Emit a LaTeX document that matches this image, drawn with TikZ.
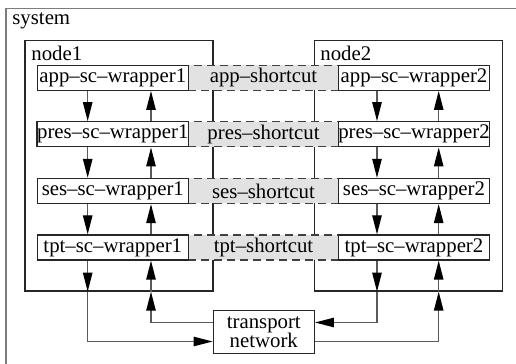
\documentclass[tikz,border=0pt]{standalone}
\usepackage{fontspec}
\setmainfont{Liberation Serif}
\usetikzlibrary{arrows.meta, positioning, calc}
\definecolor{framegray}{RGB}{125,125,125}
\definecolor{linegray}{RGB}{90,90,90}
\definecolor{cutgray}{RGB}{226,226,226}

\begin{document}
\begin{tikzpicture}[x=0.5pt, y=-0.5pt, font=\fontsize{10.4}{9.5}\selectfont,
  hostbox/.style={draw=black!85, line width=0.65pt, minimum width=94pt, minimum height=125.15pt, inner sep=0pt},
  wrapbox/.style={draw=black!85, fill=white, line width=0.65pt, minimum width=75.5pt, minimum height=12.5pt, inner sep=0pt},
  cutbox/.style={draw=black!75, fill=cutgray, line width=0.6pt, dash pattern=on 4pt off 2.5pt, minimum width=75.2pt, minimum height=12.5pt, inner sep=0pt},
  link/.style={draw=linegray, line width=0.65pt, -{Triangle[length=9.5pt, width=4.7pt, color=black]}}]
  \useasboundingbox (0,0) rectangle (516,364);

  % System
  \begin{scope}
    \clip (0,0) rectangle (516,364);
    \draw[framegray, line width=0.8pt] (6,8.5) rectangle (540,390);
  \end{scope}
  \node[anchor=west, inner sep=0pt] (systemlabel) at (12,21) {system};

  % Node 1 and node 2
  \node[hostbox] (node1) at (119,165.85) {};
  \node[anchor=west, inner sep=0pt] (node1label) at (31,53) {node1};
  \node[hostbox] (node2) at (408.5,165.85) {};
  \node[anchor=west, inner sep=0pt] (node2label) at (320,53) {node2};

  % Shortcuts
  \node[cutbox] (appcut) at (263.5,77.8) {app--shortcut};
  \node[cutbox] (prescut) at (263.5,134.3) {pres--shortcut};
  \node[cutbox] (sescut) at (263.5,191) {ses--shortcut};
  \node[cutbox] (tptcut) at (263.5,247.5) {tpt--shortcut};

  % Wrappers of node 1
  \node[wrapbox] (app1) at (112.8,77.8) {app--sc--wrapper1};
  \node[wrapbox] (pres1) at (112.8,134.3) {pres--sc--wrapper1};
  \node[wrapbox] (ses1) at (112.8,191) {ses--sc--wrapper1};
  \node[wrapbox] (tpt1) at (112.8,247.5) {tpt--sc--wrapper1};

  % Wrappers of node 2
  \node[wrapbox] (app2) at (414,77.8) {app--sc--wrapper2};
  \node[wrapbox] (pres2) at (414,134.3) {pres--sc--wrapper2};
  \node[wrapbox] (ses2) at (414,191) {ses--sc--wrapper2};
  \node[wrapbox] (tpt2) at (414,247.5) {tpt--sc--wrapper2};

  % Transport network
  \node[draw=black!85, fill=white, line width=0.65pt, minimum width=50.5pt, minimum height=21.5pt, inner sep=0pt, align=center] (transport) at (263.8,332) {transport\\network};

  % Arrow columns
  \coordinate (down1) at (87.7,0);
  \coordinate (up1) at (151,0);
  \coordinate (down2) at (377,0);
  \coordinate (up2) at (438.7,0);

  % Down and up the stack, node 1
  \draw[link] (app1.south -| down1) -- (pres1.north -| down1);
  \draw[link] (pres1.south -| down1) -- (ses1.north -| down1);
  \draw[link] (ses1.south -| down1) -- (tpt1.north -| down1);
  \draw[link] (pres1.north -| up1) -- (app1.south -| up1);
  \draw[link] (ses1.north -| up1) -- (pres1.south -| up1);
  \draw[link] (tpt1.north -| up1) -- (ses1.south -| up1);

  % Down and up the stack, node 2
  \draw[link] (app2.south -| down2) -- (pres2.north -| down2);
  \draw[link] (pres2.south -| down2) -- (ses2.north -| down2);
  \draw[link] (ses2.south -| down2) -- (tpt2.north -| down2);
  \draw[link] (pres2.north -| up2) -- (app2.south -| up2);
  \draw[link] (ses2.north -| up2) -- (pres2.south -| up2);
  \draw[link] (tpt2.north -| up2) -- (ses2.south -| up2);

  % To and from the transport network
  \draw[link] (tpt1.south -| down1) -- (node1.south -| down1);
  \draw[link] (node1.south -| down1) |- ([yshift=-4.75pt]transport.west);
  \draw[link] ([yshift=4.75pt]transport.west) -| (node1.south -| up1);
  \draw[link] (node1.south -| up1) -- (tpt1.south -| up1);
  \draw[link] (tpt2.south -| down2) -- (node2.south -| down2);
  \draw[link] (node2.south -| down2) |- ([yshift=4.75pt]transport.east);
  \draw[link] ([yshift=-4.75pt]transport.east) -| (node2.south -| up2);
  \draw[link] (node2.south -| up2) -- (tpt2.south -| up2);
\end{tikzpicture}
\end{document}
